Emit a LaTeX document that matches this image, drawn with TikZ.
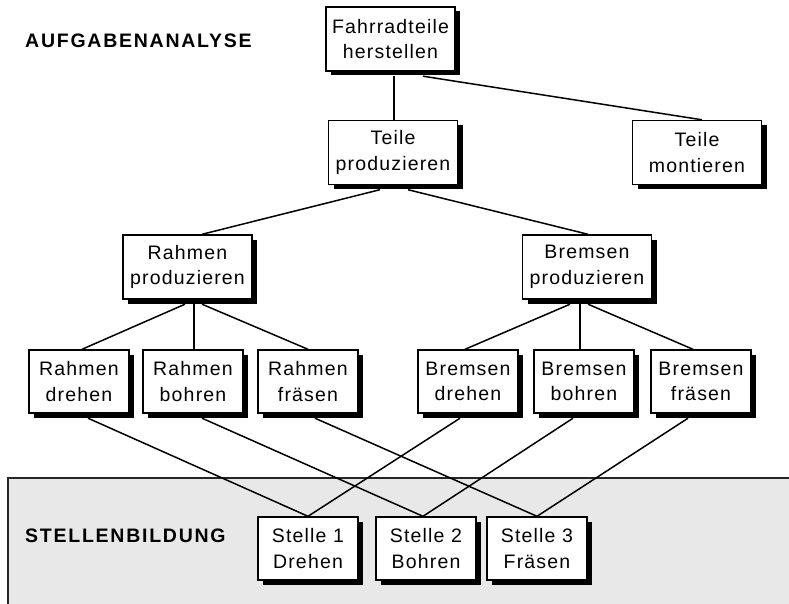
\documentclass[tikz,border=0pt]{standalone}
\usepackage{fontspec}
\setmainfont{Liberation Sans}[LetterSpace=6]
\newfontfamily\headfont{Liberation Sans}[LetterSpace=9,BoldFont={Liberation Sans Bold}]
\usetikzlibrary{calc,shadows}
\definecolor{areagrey}{RGB}{232,232,232}
\tikzset{
  box/.style={draw=black, line width=1.4pt, fill=white, align=center, inner sep=0pt,
    font=\fontsize{19.5}{25.5}\selectfont,
    drop shadow={shadow xshift=5pt, shadow yshift=-4.5pt, opacity=1, fill=black}},
  bigbox/.style={box, minimum width=129pt, minimum height=64pt},
  smallbox/.style={box, minimum width=100pt, minimum height=63pt},
  conn/.style={draw=black, line width=1.5pt},
  heading/.style={anchor=base west, inner sep=0pt, font=\headfont\bfseries\fontsize{19.5}{22}\selectfont}
}
\begin{document}
\begin{tikzpicture}[x=1pt, y=-1pt]
\useasboundingbox (0,0) rectangle (789,604);
% Stellenbildung area
\path[fill=areagrey] (8,478) rectangle (800,610);
\draw[line width=1.3pt, draw=black!85] (8,610) -- (8,478) -- (800,478);

\node[heading] (h1) at (25,48) {AUFGABENANALYSE};
\node[heading] (h2) at (25,542) {STELLENBILDUNG};

% nodes
\node[bigbox] (top) at (390.5,39) {Fahrradteile\\herstellen};
\node[bigbox] (tp) at (393,152.5) {Teile\\produzieren};
\node[bigbox] (tm) at (697,152.5) {Teile\\montieren};
\node[bigbox] (rp) at (187.5,267) {Rahmen\\produzieren};
\node[bigbox] (bp) at (587,267) {Bremsen\\produzieren};
\node[smallbox] (rd) at (79,381.5) {Rahmen\\drehen};
\node[smallbox] (rb) at (193,381.5) {Rahmen\\bohren};
\node[smallbox] (rf) at (308,381.5) {Rahmen\\fräsen};
\node[smallbox] (bd) at (468,381.5) {Bremsen\\drehen};
\node[smallbox] (bb) at (584,381.5) {Bremsen\\bohren};
\node[smallbox] (bf) at (701,381.5) {Bremsen\\fräsen};
\node[smallbox] (s1) at (308,548.5) {Stelle 1\\Drehen};
\node[smallbox] (s2) at (426,548.5) {Stelle 2\\Bohren};
\node[smallbox] (s3) at (537,548.5) {Stelle 3\\Fräsen};

% connectors (start at the bottom edge of the shadow)
\draw[conn] ($(top.south)+(3.5,4.5)$) -- ($(tp.north)+(1,0)$);
\draw[conn] ($(top.south)+(32.5,4.5)$) -- ($(tm.north)+(5,0)$);
\draw[conn] ($(tp.south)+(-13,4.5)$) -- ($(rp.north)+(14.5,0)$);
\draw[conn] ($(tp.south)+(15,4.5)$) -- ($(bp.north)+(1,0)$);
\draw[conn] ($(rp.south)+(-2.5,4.5)$) -- ($(rd.north)+(3,0)$);
\draw[conn] ($(rp.south)+(6.5,4.5)$) -- ($(rb.north)+(1,0)$);
\draw[conn] ($(rp.south)+(14.5,4.5)$) -- (rf.north);
\draw[conn] ($(bp.south)+(-17,4.5)$) -- ($(bd.north)+(-3,0)$);
\draw[conn] ($(bp.south)+(-7,4.5)$) -- ($(bb.north)+(-4,0)$);
\draw[conn] ($(bp.south)+(1,4.5)$) -- ($(bf.north)+(-8,0)$);
\draw[conn] ($(rd.south)+(9,4.5)$) -- (s1.north);
\draw[conn] ($(rb.south)+(9,4.5)$) -- ($(s2.north)+(-3,0)$);
\draw[conn] ($(rf.south)+(7,4.5)$) -- (s3.north);
\draw[conn] ($(bd.south)+(-8,4.5)$) -- (s1.north);
\draw[conn] ($(bb.south)+(-11,4.5)$) -- ($(s2.north)+(-3,0)$);
\draw[conn] ($(bf.south)+(-13,4.5)$) -- (s3.north);
\end{tikzpicture}
\end{document}
